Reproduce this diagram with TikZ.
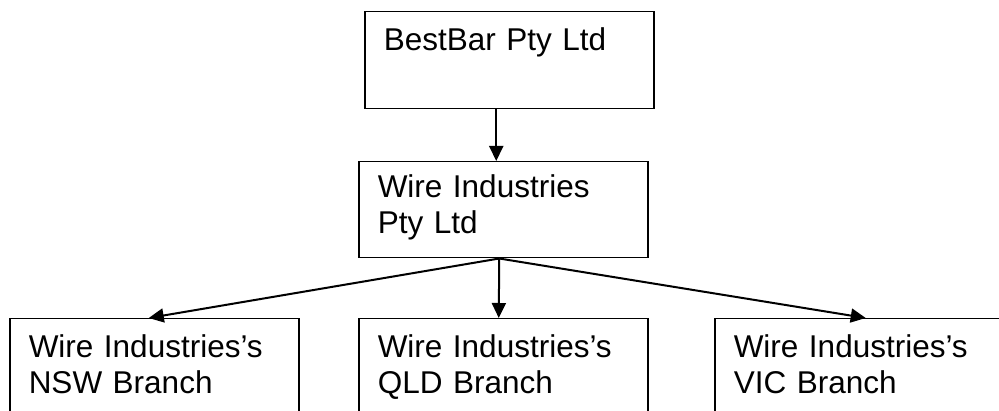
\documentclass[tikz,border=0pt]{standalone}
\usepackage{fontspec}
\setmainfont{Liberation Sans}
\usetikzlibrary{arrows.meta}
\begin{document}
\begin{tikzpicture}[x=1pt,y=-1pt,
    box/.style={draw,line width=1.5pt,anchor=north west,inner xsep=19pt,inner ysep=0pt,
      text width=251pt,align=left,font=\fontsize{31.5pt}{35.5pt}\selectfont},
    arr/.style={line width=2pt,-{Triangle[length=15pt,width=14pt]}}]
    \useasboundingbox (0,0) rectangle (999,411);
    \node[box,text height=39pt,text depth=58pt] (bestbar) at (364,11) {BestBar Pty Ltd};
    \node[box,text height=36pt,text depth=60pt] (wire) at (358,161) {Wire Industries\\Pty Ltd};
    \node[box,text height=39pt,text depth=73pt] (nsw) at (9,318) {Wire Industries’s\\NSW Branch};
    \node[box,text height=39pt,text depth=73pt] (qld) at (358,318) {Wire Industries’s\\QLD Branch};
    \node[box,text height=39pt,text depth=73pt] (vic) at (714,318) {Wire Industries’s\\VIC Branch};
    \draw[arr] ([xshift=-13pt]bestbar.south) -- ([xshift=-7pt]wire.north);
    \foreach \b/\s in {nsw/-5.5,qld/-4.5,vic/6.5}{
      \draw[arr] ([xshift=-4pt]wire.south) -- ([xshift=\s pt]\b.north);
    }
\end{tikzpicture}
\end{document}
